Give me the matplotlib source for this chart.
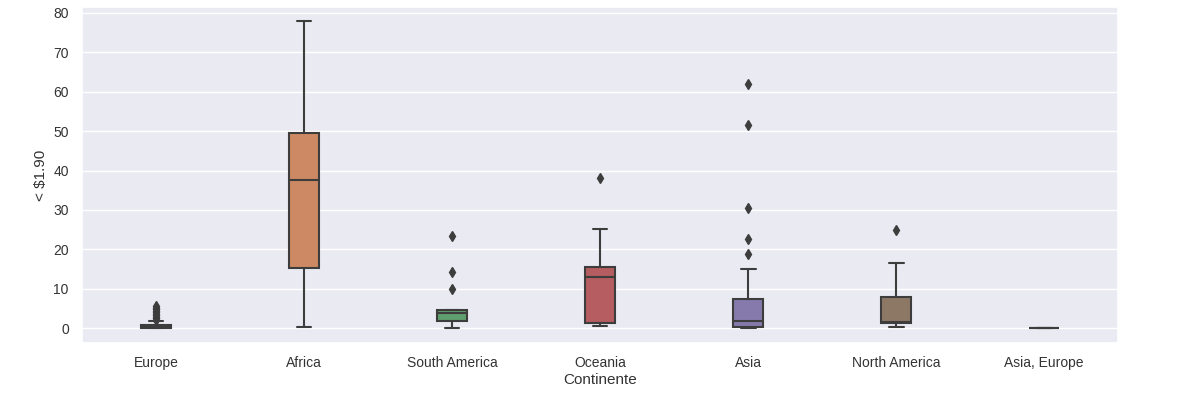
import matplotlib
matplotlib.use("Agg")
import matplotlib.pyplot as plt
import seaborn as sns

continents = ["Europe", "Africa", "South America", "Oceania", "Asia", "North America", "Asia, Europe"]

# box stats (value of "< $1.90")
whis_low = [0.0, 0.3, 0.1, 0.4, 0.1, 0.25, 0.0]
q1 = [0.0, 15.3, 1.7, 1.3, 0.2, 1.4, 0.0]
medians = [0.3, 37.7, 3.8, 13.0, 1.7, 1.5, 0.0]
q3 = [0.8, 49.6, 4.6, 15.5, 7.3, 7.8, 0.0]
whis_high = [1.8, 77.9, 4.6, 25.2, 15.1, 16.6, 0.0]
outliers = [
    [2.1, 2.5, 2.9, 3.2, 3.6, 4.0, 4.4, 4.8, 5.2, 5.6],
    [],
    [10.0, 14.3, 23.3],
    [38.1],
    [18.7, 22.6, 30.6, 51.5, 62.0],
    [24.9],
    [],
]

sns.set_theme(style="darkgrid")
plt.rcParams["font.family"] = ["Liberation Sans", "DejaVu Sans"]

fig = plt.figure(figsize=(11.77, 3.94), dpi=100)
ax = fig.add_axes([0.0697, 0.1294, 0.8803, 0.8526])

stats = []
for i, name in enumerate(continents):
    stats.append({
        "label": name,
        "whislo": whis_low[i],
        "q1": q1[i],
        "med": medians[i],
        "q3": q3[i],
        "whishi": whis_high[i],
        "fliers": outliers[i],
    })

colors = sns.color_palette("deep", len(continents), desat=0.75)
line_col = "#3d3d3d"
bp = ax.bxp(stats, positions=range(len(continents)), widths=0.2, patch_artist=True,
            boxprops=dict(edgecolor=line_col, linewidth=1.5),
            medianprops=dict(color=line_col, linewidth=1.5),
            whiskerprops=dict(color=line_col, linewidth=1.5),
            capprops=dict(color=line_col, linewidth=1.5),
            flierprops=dict(marker="d", markersize=5, markerfacecolor=line_col,
                            markeredgecolor=line_col, linestyle="none"))
for patch, c in zip(bp["boxes"], colors):
    patch.set_facecolor(c)

ax.set_xlim(-0.5, len(continents) - 0.5)
ax.set_ylim(-3.8, 81.5)
ax.set_yticks(range(0, 81, 10))
ax.xaxis.grid(False)
ax.tick_params(labelsize=10, colors="#333333")
ax.set_xlabel("Continente", fontsize=11, color="#333333", labelpad=2)
ax.set_ylabel("< $1.90", fontsize=11, color="#333333")

fig.savefig("out.png", dpi=100)
